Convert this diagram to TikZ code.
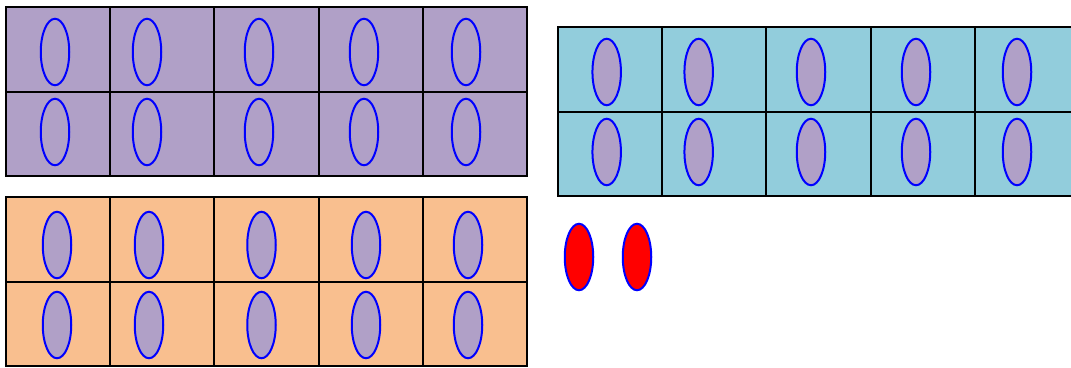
\documentclass[tikz,border=0pt]{standalone}
\usetikzlibrary{shapes.geometric}
\definecolor{cellpurple}{RGB}{176,160,199}
\definecolor{cellteal}{RGB}{146,205,220}
\definecolor{cellorange}{RGB}{249,191,143}
\begin{document}
\begin{tikzpicture}[x=1pt,y=-1pt,
  gridline/.style={line width=2pt,black},
  oval/.style={ellipse,draw=blue,line width=2pt,minimum width=28.5pt,minimum height=66.5pt,inner sep=0pt},
  hollowoval/.style={oval},
  filledoval/.style={oval,fill=cellpurple},
  redoval/.style={oval,fill=red}]
\useasboundingbox (0,0) rectangle (1071,367);
% purple grid
\begin{scope}[shift={(6,7)}]
  \fill[cellpurple] (0,0) rectangle (521,169);
  \foreach \i in {0,...,5} \draw[gridline] (\i*104.2,0) -- (\i*104.2,169);
  \foreach \j in {0,1,2} \draw[gridline] (-1,\j*84.5) -- (522,\j*84.5);
  \foreach \x [count=\c] in {49,141,253,358,460}
    \foreach \y [count=\r] in {45,125}
      \node[hollowoval] (p\r\c) at (\x,\y) {};
\end{scope}
% orange grid
\begin{scope}[shift={(6,197)}]
  \fill[cellorange] (0,0) rectangle (521,169);
  \foreach \i in {0,...,5} \draw[gridline] (\i*104.2,0) -- (\i*104.2,169);
  \foreach \j in {0,1,2} \draw[gridline] (-1,\j*84.5) -- (522,\j*84.5);
  \foreach \x [count=\c] in {51,143,255.5,360,462}
    \foreach \y [count=\r] in {48,128}
      \node[filledoval] (o\r\c) at (\x,\y) {};
\end{scope}
% teal grid
\begin{scope}[shift={(558,27)}]
  \fill[cellteal] (0,0) rectangle (521,169);
  \foreach \i in {0,...,5} \draw[gridline] (\i*104.2,0) -- (\i*104.2,169);
  \foreach \j in {0,1,2} \draw[gridline] (-1,\j*84.5) -- (522,\j*84.5);
  \foreach \x [count=\c] in {48.7,140.7,253,358,459}
    \foreach \y [count=\r] in {45,125}
      \node[filledoval] (t\r\c) at (\x,\y) {};
\end{scope}
% red ellipses
\node[redoval] (r1) at (579,257) {};
\node[redoval] (r2) at (637,257) {};
\end{tikzpicture}
\end{document}
